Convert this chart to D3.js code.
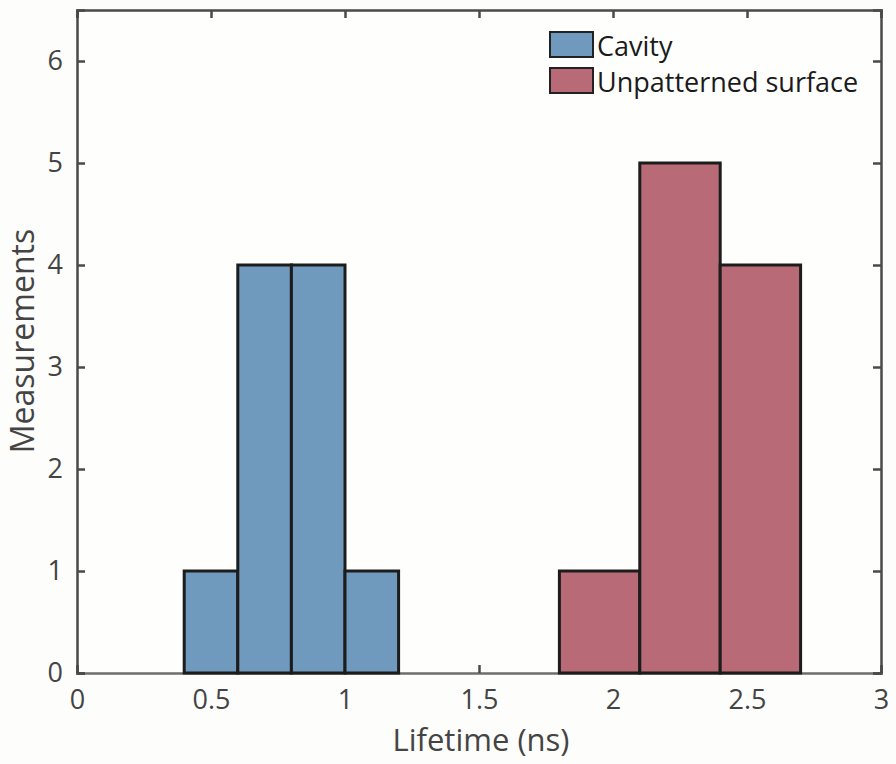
<!DOCTYPE html>
<html><head><meta charset="utf-8">
<script src="https://cdn.jsdelivr.net/npm/d3@7"></script>
<style>
body{margin:0;background:#fdfdfb;}
svg{display:block;font-family:"Open Sans","Noto Sans",sans-serif;}
</style></head>
<body><svg id="c" width="896" height="764"></svg>
<script>
const seriesNames = ["Cavity", "Unpatterned surface"];
const seriesColors = ["#7099be", "#b86b76"];
const cavityEdges = [0.4, 0.6, 0.8, 1.0, 1.2];
const cavityCounts = [1, 4, 4, 1];
const surfaceEdges = [1.8, 2.1, 2.4, 2.7];
const surfaceCounts = [1, 5, 4];
const xTicks = [0, 0.5, 1, 1.5, 2, 2.5, 3];
const yTicks = [0, 1, 2, 3, 4, 5, 6];

const svg = d3.select("#c");
const L = 77, R = 881, T = 10, B = 673;
const x = d3.scaleLinear().domain([0, 3]).range([L, R]);
const y = d3.scaleLinear().domain([0, 6.5]).range([B, T]);
const axisColor = "#4a4a4a";
const FF = "'Open Sans','Noto Sans',sans-serif";

svg.append("rect").attr("x", L).attr("y", T).attr("width", R - L).attr("height", B - T).attr("fill", "#fefefd");

// axes
const fmt = d => d3.format("")(d);
const gB = svg.append("g").attr("transform", `translate(0,${B})`)
  .call(d3.axisBottom(x).tickValues(xTicks).tickSize(-8).tickPadding(17).tickFormat(fmt));
const gT = svg.append("g").attr("transform", `translate(0,${T})`)
  .call(d3.axisTop(x).tickValues(xTicks).tickSize(-8).tickFormat(""));
const gL = svg.append("g").attr("transform", `translate(${L},0)`)
  .call(d3.axisLeft(y).tickValues(yTicks).tickSize(-8).tickPadding(14).tickFormat(fmt));
const gR = svg.append("g").attr("transform", `translate(${R},0)`)
  .call(d3.axisRight(y).tickValues(yTicks).tickSize(-8).tickFormat(""));
[gB, gT, gL, gR].forEach(g => {
  g.select(".domain").attr("stroke", axisColor).attr("stroke-width", 2.5);
  g.selectAll(".tick line").attr("stroke", axisColor).attr("stroke-width", 2.5);
  g.selectAll(".tick text").attr("fill", "#444").attr("font-size", 27).attr("font-family", FF);
});
gB.select(".domain").attr("stroke", "#6e6e6e").attr("stroke-width", 2.5);

function bins(edges, counts) {
  return counts.map((c, i) => ({x0: edges[i], x1: edges[i + 1], c}));
}
const allSeries = [bins(cavityEdges, cavityCounts), bins(surfaceEdges, surfaceCounts)];
allSeries.forEach((s, si) => {
  svg.append("g").selectAll("rect").data(s).join("rect")
    .attr("x", d => x(d.x0)).attr("width", d => x(d.x1) - x(d.x0))
    .attr("y", d => y(d.c)).attr("height", d => y(0) - y(d.c))
    .attr("fill", seriesColors[si]).attr("stroke", "#1c1c1c").attr("stroke-width", 3);
});

svg.append("text").attr("x", 481).attr("y", 751).attr("text-anchor", "middle")
  .attr("font-size", 31).attr("fill", "#444").text("Lifetime (ns)");
svg.append("text").attr("transform", `translate(34,341) rotate(-90)`).attr("text-anchor", "middle")
  .attr("font-size", 32).attr("fill", "#444").text("Measurements");

// legend
const lg = svg.append("g");
seriesNames.forEach((n, i) => {
  lg.append("rect").attr("x", 550).attr("y", 32 + i * 36).attr("width", 43).attr("height", 25)
    .attr("fill", seriesColors[i]).attr("stroke", "#222").attr("stroke-width", 2);
  lg.append("text").attr("x", 597).attr("y", 56 + i * 36).attr("font-size", 27).attr("fill", "#1a1a1a").text(n);
});
</script></body></html>
